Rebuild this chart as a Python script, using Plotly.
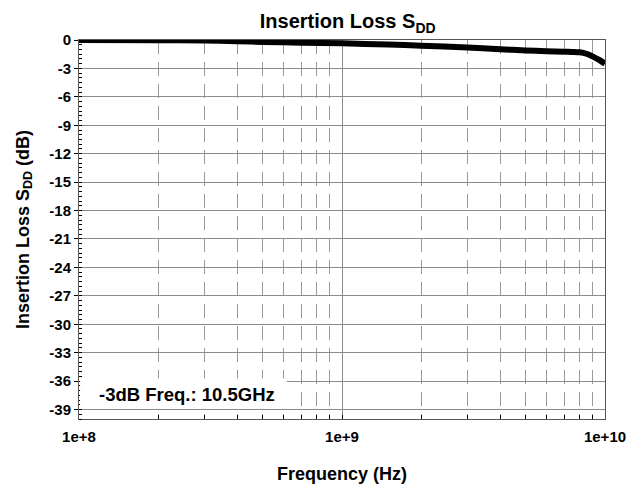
import plotly.graph_objects as go

freq_hz = [1e8, 2e8, 3e8, 4e8, 5e8, 7e8, 1e9, 1.5e9, 2e9, 3e9, 4e9, 5e9, 6e9, 7e9, 7.5e9, 8e9, 8.5e9, 9e9, 9.5e9, 1e10]
loss_db = [0.0, -0.02, -0.05, -0.12, -0.2, -0.28, -0.35, -0.48, -0.6, -0.8, -0.98, -1.1, -1.18, -1.23, -1.26, -1.3, -1.45, -1.75, -2.1, -2.5]

x_tickvals = [1e8, 1e9, 1e10]
x_ticktext = ["1e+8", "1e+9", "1e+10"]
x_minor = [m * 10**e for e in (8, 9) for m in range(2, 10)]
y_tickvals = list(range(0, -40, -3))
y_ticktext = [str(v) for v in y_tickvals]

FONT = "Liberation Sans, Arial, sans-serif"


def b(s):
    return "<b>" + s + "</b>"


fig = go.Figure()
fig.add_trace(go.Scatter(
    x=freq_hz, y=loss_db, mode="lines",
    line=dict(color="black", width=6, shape="spline", smoothing=0.8),
    showlegend=False, hoverinfo="skip",
))

fig.update_layout(
    width=635, height=476,
    margin=dict(l=71, r=38, t=32, b=65),
    paper_bgcolor="white", plot_bgcolor="white",
    font=dict(family=FONT, color="black"),
    title=dict(text=b("Insertion Loss S<sub>DD</sub>"), x=0.535, xanchor="center",
               yref="container", y=0.972, yanchor="middle",
               font=dict(size=20, family=FONT, color="black")),
    shapes=[dict(type="rect", xref="paper", yref="paper", x0=0.002, x1=0.395,
                 y0=0.033, y1=0.107, fillcolor="white", line=dict(width=0),
                 layer="above")],
    annotations=[dict(text=b("-3dB Freq.: 10.5GHz"), xref="paper", yref="paper",
                      x=0.205, y=0.064, xanchor="center", yanchor="middle",
                      showarrow=False,
                      font=dict(size=18.5, family=FONT, color="black"))],
)

fig.update_xaxes(
    type="log", range=[8, 10], automargin=False,
    tickvals=x_tickvals, ticktext=[b(t) for t in x_ticktext],
    ticks="inside", ticklen=4, tickcolor="black",
    ticklabelstandoff=4,
    tickfont=dict(size=15, family=FONT, color="black"),
    showgrid=True, gridcolor="#8c8c8c", gridwidth=1,
    showline=True, linecolor="#555555", linewidth=1, mirror=True,
    zeroline=False,
    title=dict(text=b("Frequency (Hz)"), font=dict(size=18, family=FONT, color="black"), standoff=24),
    minor=dict(tickvals=x_minor, ticks="inside", ticklen=4, tickcolor="black",
               showgrid=True, gridcolor="#9a9a9a", gridwidth=1, griddash="14px,8px"),
)

fig.update_yaxes(
    range=[-40, 0], automargin=False,
    tickvals=y_tickvals, ticktext=[b(t) for t in y_ticktext],
    ticks="outside", ticklen=4, tickcolor="black",
    tickfont=dict(size=15, family=FONT, color="black"),
    showgrid=True, gridcolor="#8c8c8c", gridwidth=1,
    showline=True, linecolor="#555555", linewidth=1, mirror=True,
    zeroline=False,
    title=dict(text=b("Insertion Loss S<sub>DD</sub> (dB)"), font=dict(size=18, family=FONT, color="black"), standoff=15),
    minor=dict(dtick=0.5, ticks="inside", ticklen=3, tickcolor="black", showgrid=False),
)

fig.write_html("out.html")
